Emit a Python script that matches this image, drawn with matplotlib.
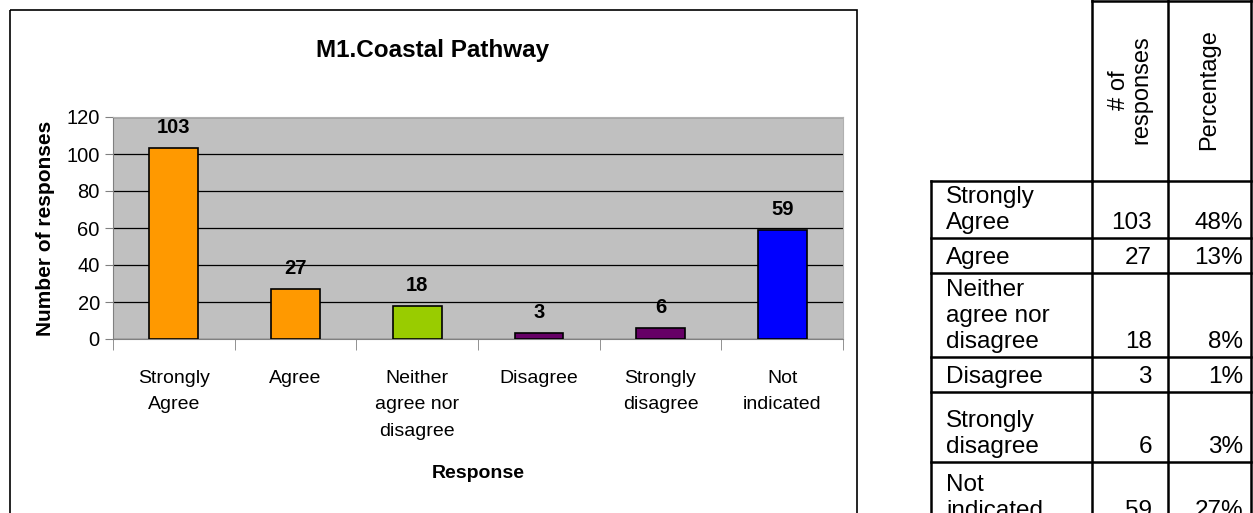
import matplotlib
matplotlib.use("Agg")
import matplotlib.pyplot as plt
from matplotlib.patches import Rectangle
import numpy as np

plt.rcParams["font.family"] = ["Liberation Sans", "DejaVu Sans"]

# chart data
categories = ["Strongly\nAgree", "Agree", "Neither\nagree nor\ndisagree",
              "Disagree", "Strongly\ndisagree", "Not\nindicated"]
responses = [103, 27, 18, 3, 6, 59]
bar_colors = ["#FF9900", "#FF9900", "#99CC00", "#660066", "#660066", "#0000FF"]

# table data
row_labels = ["Strongly\nAgree", "Agree", "Neither\nagree nor\ndisagree",
              "Disagree", "Strongly\ndisagree", "Not\nindicated"]
percentages = ["48%", "13%", "8%", "1%", "3%", "27%"]
col_headers = ["# of\nresponses", "Percentage"]

W, H = 1253, 513
fig = plt.figure(figsize=(W / 100, H / 100), dpi=100)

# overlay axes in pixel coords for frame + table
ov = fig.add_axes([0, 0, 1, 1])
ov.set_xlim(0, W)
ov.set_ylim(H, 0)
ov.axis("off")
ov.add_patch(Rectangle((10, 10), 847, 520, fill=False, edgecolor="black", lw=1.2))
ov.text(433, 51, "M1.Coastal Pathway", ha="center", va="center",
        fontsize=17.5, fontweight="bold")

# --- bar chart ---
x0, x1, ytop, ybot = 113, 843, 117, 339
ax = fig.add_axes([x0 / W, (H - ybot) / H, (x1 - x0) / W, (ybot - ytop) / H])
ax.set_facecolor("#C0C0C0")
x = np.arange(len(categories))
ax.bar(x, responses, width=0.4, color=bar_colors, edgecolor="black", lw=1.2, zorder=3)
ax.set_xlim(-0.5, len(categories) - 0.5)
ax.set_ylim(0, 120)
ax.set_yticks(np.arange(0, 121, 20))
ax.yaxis.grid(True, color="black", lw=0.9, zorder=1)
ax.set_axisbelow(True)
for s in ["top", "right"]:
    ax.spines[s].set_color("#B0B0B0")
for s in ["left", "bottom"]:
    ax.spines[s].set_color("#808080")
ax.tick_params(axis="y", colors="#808080", labelcolor="black", labelsize=14.5, length=6)
ax.set_xticks(x)
ax.set_xticklabels(categories, fontsize=14, linespacing=1.75)
ax.tick_params(axis="x", length=0, pad=22)
ax.set_xticks(np.arange(-0.5, len(categories), 1), minor=True)
ax.tick_params(axis="x", which="minor", length=8, color="#808080")
for xi, v in zip(x, responses):
    ax.text(xi, v + 6, str(v), ha="center", va="bottom", fontsize=14.5, fontweight="bold")
ax.set_ylabel("Number of responses", fontsize=15, fontweight="bold", labelpad=8)
ax.set_xlabel("Response", fontsize=14, fontweight="bold", labelpad=18)

# --- table ---
cx = [931, 1092, 1168, 1251]
ry = [181, 238, 273, 357, 392, 462, 530]
lw = 1.8
# header box
ov.plot([cx[1], cx[1]], [0, ry[0]], color="black", lw=lw)
ov.plot([cx[2], cx[2]], [0, ry[0]], color="black", lw=lw)
ov.plot([cx[3], cx[3]], [0, ry[-1]], color="black", lw=lw)
ov.plot([cx[1], cx[3]], [1, 1], color="black", lw=lw)
for yy in ry[:-1]:
    ov.plot([cx[0], cx[3]], [yy, yy], color="black", lw=lw)
for xx in cx[:3]:
    ov.plot([xx, xx], [ry[0], ry[-1]], color="black", lw=lw)
ov.text((cx[1] + cx[2]) / 2, 90, col_headers[0], rotation=90, ha="center", va="center",
        fontsize=17, linespacing=1.05)
ov.text((cx[2] + cx[3]) / 2, 90, col_headers[1], rotation=90, ha="center", va="center",
        fontsize=17)
for i, (lab, n, p) in enumerate(zip(row_labels, responses, percentages)):
    yb = ry[i + 1] - 4 if i < len(row_labels) - 1 else 522
    ov.text(cx[0] + 15, yb, lab, ha="left", va="bottom", fontsize=17.5, linespacing=1.25)
    ov.text(cx[2] - 16, yb, str(n), ha="right", va="bottom", fontsize=17.5)
    ov.text(cx[3] - 8, yb, p, ha="right", va="bottom", fontsize=17.5)

fig.savefig("out.png", dpi=100)
